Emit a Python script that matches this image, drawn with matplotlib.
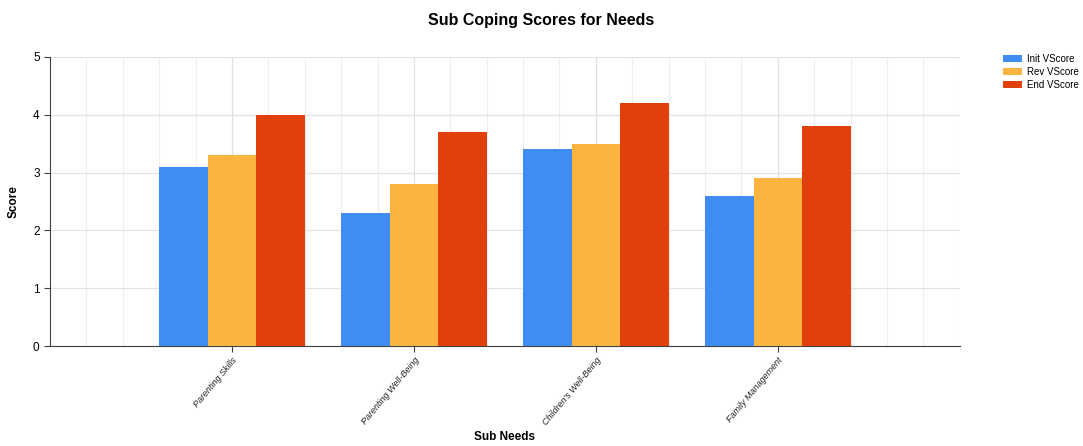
import numpy as np
import matplotlib.pyplot as plt
from matplotlib.ticker import MultipleLocator

plt.rcParams['font.family'] = ['Liberation Sans', 'DejaVu Sans']

categories = ["Parenting Skills", "Parenting Well-Being", "Children's Well-Being", "Family Management"]
init_vscore = [3.1, 2.3, 3.4, 2.6]
rev_vscore = [3.3, 2.8, 3.5, 2.9]
end_vscore = [4.0, 3.7, 4.2, 3.8]

series = [("Init VScore", init_vscore, "#418CF0"),
          ("Rev VScore", rev_vscore, "#FCB441"),
          ("End VScore", end_vscore, "#E0400A")]

fig = plt.figure(figsize=(10.83, 4.46), dpi=100)
ax = fig.add_axes([0.0462, 0.2242, 0.84, 0.648])

x = np.arange(1, len(categories) + 1)
w = 0.8 / 3
for i, (name, vals, col) in enumerate(series):
    ax.bar(x + (i - 1) * w, vals, w, color=col, label=name, zorder=3)

ax.set_xlim(0, 5)
ax.set_ylim(0, 5)
ax.set_xticks(x)
ax.set_xticklabels(categories, rotation=50, ha="right", rotation_mode="anchor",
                   fontsize=6.5, style="italic", color="#222222")
ax.xaxis.set_minor_locator(MultipleLocator(0.2))
ax.set_yticks([0, 1, 2, 3, 4, 5])
ax.tick_params(axis="y", labelsize=8.5, length=4, color="#404040")
ax.tick_params(axis="x", length=4, color="#404040", pad=3)
ax.tick_params(axis="x", which="minor", length=0)

ax.grid(axis="x", which="minor", color="#eeeeee", linewidth=0.8, zorder=0)
ax.grid(axis="x", which="major", color="#e0e0e0", linewidth=0.9, zorder=0)
ax.grid(axis="y", which="major", color="#e3e3e3", linewidth=0.9, zorder=0)

for s in ["top", "right"]:
    ax.spines[s].set_visible(False)
ax.spines["left"].set_color("#404040")
ax.spines["bottom"].set_color("#404040")

ax.set_ylabel("Score", fontsize=8.5, fontweight="bold")
ax.yaxis.set_label_coords(-0.033, 0.5)
ax.set_xlabel("Sub Needs", fontsize=8.5, fontweight="bold", va="center")
ax.xaxis.set_label_coords(0.5, -0.315)
fig.text(0.5, 0.955, "Sub Coping Scores for Needs", ha="center", va="center",
         fontsize=11.5, fontweight="bold")

ax.legend(loc="upper left", bbox_to_anchor=(1.047, 1.01), fontsize=7, frameon=False,
          borderaxespad=0, borderpad=0,
          handlelength=2.0, handleheight=0.75, labelspacing=0.3, handletextpad=0.5)

fig.savefig("out.png", dpi=100)
